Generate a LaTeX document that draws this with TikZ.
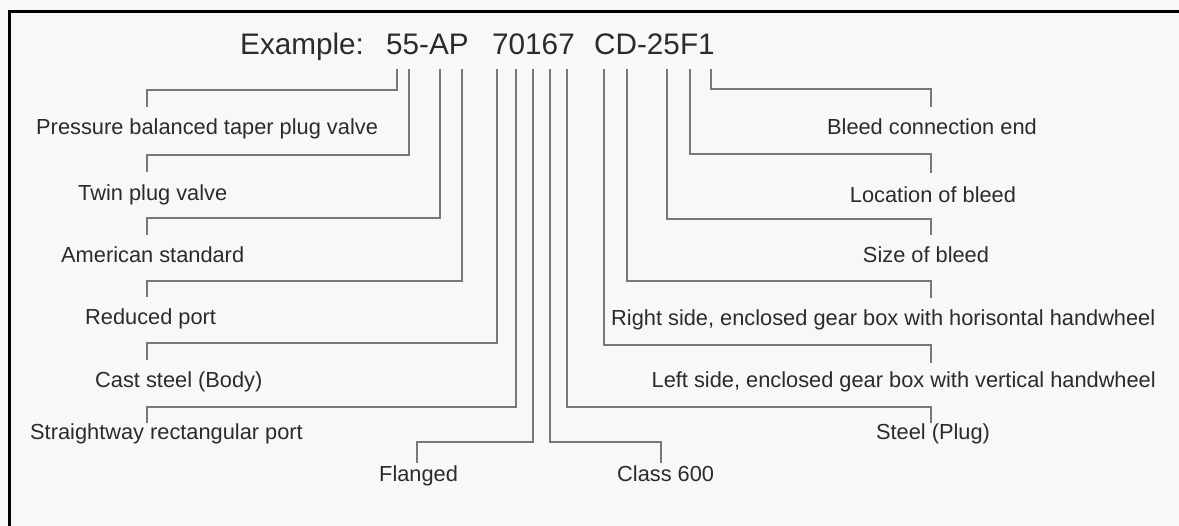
\documentclass[tikz,border=0pt]{standalone}
\usepackage{fontspec}
\setmainfont{Liberation Sans}
\definecolor{bg}{HTML}{F7F8F9}
\definecolor{ink}{HTML}{2B2B2B}
\definecolor{wire}{HTML}{787878}
\begin{document}
\begin{tikzpicture}[x=1pt,y=-1pt,
  lbl/.style={inner sep=0pt, text=ink, font=\fontsize{21.8}{24}\selectfont},
  ttl/.style={inner sep=0pt, text=ink, font=\fontsize{29.7}{32}\selectfont, anchor=base west},
  wirestyle/.style={draw=wire, line width=1.3pt},
  framestyle/.style={draw=black, line width=3pt}]
\useasboundingbox[fill=bg] (0,0) rectangle (1179,526);
\draw[framestyle] (9,527) -- (9,12) -- (1180,12);

% title
\node[ttl] (w1) at (240,55) {Example:};
\node[ttl] (w2) at (386,55) {55-AP};
\node[ttl] (w3) at (492,55) {70167};
\node[ttl] (w4) at (594,55) {CD-25F1};

% labels, left
\node[lbl, anchor=mid west] (l1) at (36,132) {Pressure balanced taper plug valve};
\node[lbl, anchor=mid west] (l2) at (78,198) {Twin plug valve};
\node[lbl, anchor=mid west] (l3) at (61,260) {American standard};
\node[lbl, anchor=mid west] (l4) at (85,322) {Reduced port};
\node[lbl, anchor=mid west] (l5) at (95,385) {Cast steel (Body)};
\node[lbl, anchor=mid west] (l6) at (30,437) {Straightway rectangular port};
\node[lbl, anchor=mid west] (l7) at (379,479) {Flanged};
\node[lbl, anchor=mid west] (l8) at (617,479) {Class 600};
% labels, right
\node[lbl, anchor=mid] (l9) at (933,437) {Steel (Plug)};
\node[lbl, anchor=mid east] (l10) at (1156,385) {Left side, enclosed gear box with vertical handwheel};
\node[lbl, anchor=mid west] (l11) at (611,323) {Right side, enclosed gear box with horisontal handwheel};
\node[lbl, anchor=mid] (l12) at (926,260) {Size of bleed};
\node[lbl, anchor=mid] (l13) at (933,200) {Location of bleed};
\node[lbl, anchor=mid east] (l14) at (1037,132) {Bleed connection end};

% connectors: index / top x / horizontal y / drop x / drop end y
\foreach \i/\tx/\hy/\dx/\dy in {
  1/397/90/147/107,
  2/409/155/147/172,
  3/440/218/147/235,
  4/462/281/147/297,
  5/497/343/147/360,
  6/516/407/147/423,
  7/533/442/417/463,
  8/550/442/661/463,
  9/567/407/931/423,
  10/604/345/931/363,
  11/627/281/931/298,
  12/667/219/931/235,
  13/690/154/931/173,
  14/711/89/931/107}{
  \coordinate (t\i) at (\tx,69);
  \coordinate (b\i) at (\dx,\hy);
  \coordinate (e\i) at (\dx,\dy);
  \draw[wirestyle] (t\i) |- (b\i) -- (e\i);
}
\end{tikzpicture}
\end{document}
